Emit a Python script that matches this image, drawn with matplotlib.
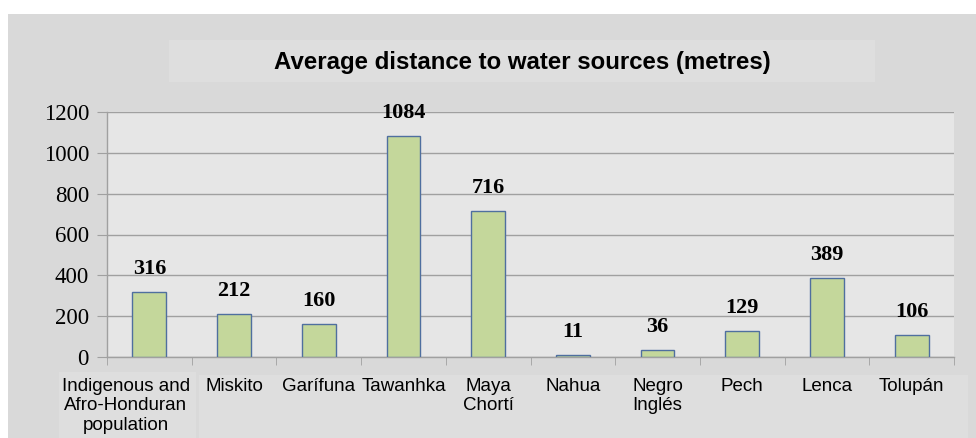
import matplotlib
matplotlib.use("Agg")
import matplotlib.pyplot as plt
from matplotlib.patches import Rectangle

categories = ["Indigenous and\nAfro-Honduran\npopulation", "Miskito", "Garífuna", "Tawanhka",
              "Maya\nChortí", "Nahua", "Negro\nInglés", "Pech", "Lenca", "Tolupán"]
values = [316, 212, 160, 1084, 716, 11, 36, 129, 389, 106]
yticks = [0, 200, 400, 600, 800, 1000, 1200]
title = "Average distance to water sources (metres)"

W, H = 976, 438
fig = plt.figure(figsize=(W / 100, H / 100), dpi=100)
fig.patch.set_facecolor("white")

def px_rect(x0, y0, x1, y1, color):
    fig.patches.append(Rectangle((x0 / W, 1 - y1 / H), (x1 - x0) / W, (y1 - y0) / H,
                                 transform=fig.transFigure, facecolor=color,
                                 edgecolor="none", zorder=-5))

px_rect(8, 14, 976, 438, "#d9d9d9")
px_rect(169, 40, 875, 82, "#dedede")
px_rect(59, 372, 196, 438, "#dedede")
px_rect(199, 375, 968, 438, "#dedede")

fig.text(522 / W, 1 - 62 / H, title, ha="center", va="center",
         fontsize=17.3, fontweight="bold", family="Liberation Sans")

ax = fig.add_axes([107 / W, 1 - 357 / H, (954 - 107) / W, (357 - 112) / H])
ax.set_zorder(2)
ax.set_facecolor("#e6e6e6")
x = list(range(len(categories)))
ax.bar(x, values, width=0.4, color="#c4d79b", edgecolor="#4f6f9f", linewidth=1.0, zorder=3)
ax.set_xlim(-0.5, len(categories) - 0.5)
ax.set_ylim(0, 1200)
ax.set_yticks(yticks)
ax.set_yticklabels([str(t) for t in yticks], family="Liberation Serif", fontsize=16.5)
ax.yaxis.grid(True, color="#a0a0a0", linewidth=1.0, zorder=0)
ax.set_axisbelow(True)
ax.tick_params(axis="y", length=7, color="#a0a0a0", pad=6)

# x tick labels; the first (long) label is shifted left, as in the reference
ax.set_xticks(x)
ax.set_xticklabels([""] + categories[1:], family="Liberation Sans", fontsize=13.5,
                   linespacing=1.2)
ax.tick_params(axis="x", which="major", length=0, pad=15)
ax.annotate(categories[0], xy=(x[0], 0), xycoords=("data", "axes fraction"),
            xytext=(-17, -15), textcoords="offset points", ha="center", va="top",
            family="Liberation Sans", fontsize=13.5, linespacing=1.2,
            annotation_clip=False)
ax.set_xticks([i - 0.5 for i in range(len(categories) + 1)], minor=True)
ax.tick_params(axis="x", which="minor", length=6, color="#a0a0a0")

for s in ["top", "right"]:
    ax.spines[s].set_visible(False)
for s in ["left", "bottom"]:
    ax.spines[s].set_color("#a0a0a0")
    ax.spines[s].set_linewidth(1.0)

for xi, v in zip(x, values):
    ax.annotate(str(v), (xi, v), xytext=(0, 13), textcoords="offset points",
                ha="center", va="baseline", fontsize=16, fontweight="bold",
                family="Liberation Serif")

fig.savefig("out.png", dpi=100)
